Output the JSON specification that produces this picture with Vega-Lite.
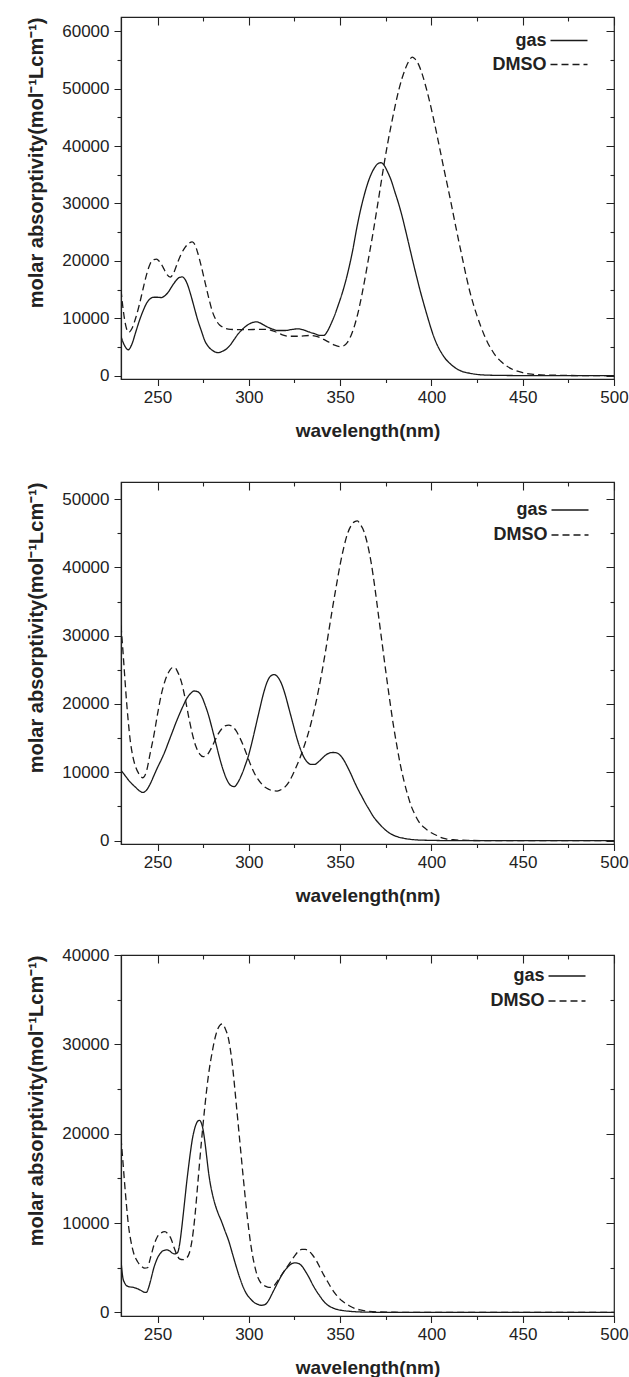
{
  "$schema": "https://vega.github.io/schema/vega-lite/v6.json",
  "padding": {"left": 26, "top": 15, "right": 0, "bottom": 0},
  "spacing": 38,
  "config": {
    "view": {"stroke": "#222", "strokeWidth": 1.2},
    "font": "Liberation Sans",
    "axis": {"labelFont": "Liberation Sans", "titleFont": "Liberation Sans", "labelColor": "#222", "titleColor": "#222", "tickColor": "#222", "domainColor": "#222", "grid": false, "tickWidth": 1.1, "domainWidth": 1.2},
    "legend": {"labelFont": "Liberation Sans"}
  },
  "resolve": {"scale": {"strokeDash": "independent"}, "legend": {"strokeDash": "independent"}},
  "datasets": {
    "p1": [
      {"wl":230,"eps":6800,"s":"gas"},{"wl":232,"eps":5200,"s":"gas"},{"wl":234,"eps":4500,"s":"gas"},{"wl":236,"eps":5500,"s":"gas"},{"wl":238,"eps":7500,"s":"gas"},{"wl":240,"eps":9500,"s":"gas"},{"wl":242,"eps":11200,"s":"gas"},{"wl":244,"eps":12600,"s":"gas"},{"wl":246,"eps":13400,"s":"gas"},{"wl":248,"eps":13650,"s":"gas"},{"wl":250,"eps":13650,"s":"gas"},{"wl":252,"eps":13600,"s":"gas"},{"wl":254,"eps":13900,"s":"gas"},{"wl":256,"eps":14600,"s":"gas"},{"wl":258,"eps":15600,"s":"gas"},{"wl":260,"eps":16500,"s":"gas"},{"wl":262,"eps":17100,"s":"gas"},{"wl":263.5,"eps":17200,"s":"gas"},{"wl":265,"eps":16800,"s":"gas"},{"wl":266.5,"eps":15800,"s":"gas"},{"wl":268,"eps":14300,"s":"gas"},{"wl":270,"eps":12000,"s":"gas"},{"wl":272,"eps":9700,"s":"gas"},{"wl":274,"eps":7800,"s":"gas"},{"wl":276,"eps":6000,"s":"gas"},{"wl":278,"eps":5000,"s":"gas"},{"wl":280,"eps":4400,"s":"gas"},{"wl":283,"eps":4000,"s":"gas"},{"wl":286,"eps":4300,"s":"gas"},{"wl":288,"eps":4700,"s":"gas"},{"wl":290,"eps":5400,"s":"gas"},{"wl":292,"eps":6300,"s":"gas"},{"wl":294,"eps":7200,"s":"gas"},{"wl":296,"eps":7900,"s":"gas"},{"wl":298,"eps":8500,"s":"gas"},{"wl":300,"eps":8950,"s":"gas"},{"wl":302,"eps":9250,"s":"gas"},{"wl":304,"eps":9360,"s":"gas"},{"wl":306,"eps":9200,"s":"gas"},{"wl":308,"eps":8850,"s":"gas"},{"wl":310,"eps":8500,"s":"gas"},{"wl":313,"eps":8100,"s":"gas"},{"wl":316,"eps":7850,"s":"gas"},{"wl":320,"eps":7850,"s":"gas"},{"wl":323,"eps":8000,"s":"gas"},{"wl":327,"eps":8150,"s":"gas"},{"wl":330,"eps":7950,"s":"gas"},{"wl":333,"eps":7600,"s":"gas"},{"wl":336,"eps":7300,"s":"gas"},{"wl":339,"eps":7000,"s":"gas"},{"wl":341,"eps":7000,"s":"gas"},{"wl":343,"eps":7700,"s":"gas"},{"wl":345,"eps":9000,"s":"gas"},{"wl":347,"eps":10500,"s":"gas"},{"wl":349,"eps":12300,"s":"gas"},{"wl":351,"eps":14200,"s":"gas"},{"wl":353,"eps":16400,"s":"gas"},{"wl":355,"eps":19000,"s":"gas"},{"wl":357,"eps":22000,"s":"gas"},{"wl":359,"eps":25500,"s":"gas"},{"wl":361,"eps":28600,"s":"gas"},{"wl":363,"eps":31200,"s":"gas"},{"wl":365,"eps":33400,"s":"gas"},{"wl":367,"eps":35100,"s":"gas"},{"wl":369,"eps":36300,"s":"gas"},{"wl":371,"eps":37000,"s":"gas"},{"wl":372.5,"eps":37100,"s":"gas"},{"wl":374,"eps":36700,"s":"gas"},{"wl":376,"eps":35500,"s":"gas"},{"wl":378,"eps":34000,"s":"gas"},{"wl":380,"eps":32000,"s":"gas"},{"wl":382,"eps":30000,"s":"gas"},{"wl":384,"eps":27700,"s":"gas"},{"wl":386,"eps":25100,"s":"gas"},{"wl":388,"eps":22400,"s":"gas"},{"wl":390,"eps":19700,"s":"gas"},{"wl":392,"eps":17100,"s":"gas"},{"wl":394,"eps":14600,"s":"gas"},{"wl":396,"eps":12300,"s":"gas"},{"wl":398,"eps":10100,"s":"gas"},{"wl":400,"eps":8000,"s":"gas"},{"wl":402,"eps":6200,"s":"gas"},{"wl":404,"eps":4800,"s":"gas"},{"wl":406,"eps":3700,"s":"gas"},{"wl":408,"eps":2800,"s":"gas"},{"wl":410,"eps":2150,"s":"gas"},{"wl":412,"eps":1600,"s":"gas"},{"wl":414,"eps":1150,"s":"gas"},{"wl":417,"eps":700,"s":"gas"},{"wl":421,"eps":400,"s":"gas"},{"wl":425,"eps":200,"s":"gas"},{"wl":430,"eps":80,"s":"gas"},{"wl":440,"eps":20,"s":"gas"},{"wl":450,"eps":0,"s":"gas"},{"wl":500,"eps":0,"s":"gas"},
      {"wl":230,"eps":14900,"s":"DMSO"},{"wl":231,"eps":12000,"s":"DMSO"},{"wl":232,"eps":9700,"s":"DMSO"},{"wl":233,"eps":8200,"s":"DMSO"},{"wl":234.3,"eps":7550,"s":"DMSO"},{"wl":236,"eps":8200,"s":"DMSO"},{"wl":238,"eps":10000,"s":"DMSO"},{"wl":240,"eps":12300,"s":"DMSO"},{"wl":242,"eps":15000,"s":"DMSO"},{"wl":244,"eps":17600,"s":"DMSO"},{"wl":246,"eps":19500,"s":"DMSO"},{"wl":248,"eps":20200,"s":"DMSO"},{"wl":249.5,"eps":20300,"s":"DMSO"},{"wl":251,"eps":19900,"s":"DMSO"},{"wl":253,"eps":18900,"s":"DMSO"},{"wl":255,"eps":17700,"s":"DMSO"},{"wl":257,"eps":17150,"s":"DMSO"},{"wl":259,"eps":18000,"s":"DMSO"},{"wl":261,"eps":19700,"s":"DMSO"},{"wl":263,"eps":21200,"s":"DMSO"},{"wl":265,"eps":22300,"s":"DMSO"},{"wl":267,"eps":23000,"s":"DMSO"},{"wl":269,"eps":23300,"s":"DMSO"},{"wl":270.5,"eps":22800,"s":"DMSO"},{"wl":272,"eps":21400,"s":"DMSO"},{"wl":274,"eps":19000,"s":"DMSO"},{"wl":276,"eps":16300,"s":"DMSO"},{"wl":278,"eps":13600,"s":"DMSO"},{"wl":280,"eps":11200,"s":"DMSO"},{"wl":282,"eps":9700,"s":"DMSO"},{"wl":284,"eps":8800,"s":"DMSO"},{"wl":286,"eps":8400,"s":"DMSO"},{"wl":290,"eps":8050,"s":"DMSO"},{"wl":295,"eps":8000,"s":"DMSO"},{"wl":300,"eps":8000,"s":"DMSO"},{"wl":305,"eps":8050,"s":"DMSO"},{"wl":310,"eps":8050,"s":"DMSO"},{"wl":314,"eps":7700,"s":"DMSO"},{"wl":318,"eps":7150,"s":"DMSO"},{"wl":322,"eps":6850,"s":"DMSO"},{"wl":327,"eps":6850,"s":"DMSO"},{"wl":333,"eps":6980,"s":"DMSO"},{"wl":338,"eps":6750,"s":"DMSO"},{"wl":341,"eps":6300,"s":"DMSO"},{"wl":344,"eps":5800,"s":"DMSO"},{"wl":347,"eps":5300,"s":"DMSO"},{"wl":350,"eps":5050,"s":"DMSO"},{"wl":352,"eps":5200,"s":"DMSO"},{"wl":354,"eps":5800,"s":"DMSO"},{"wl":356,"eps":7000,"s":"DMSO"},{"wl":358,"eps":8800,"s":"DMSO"},{"wl":360,"eps":11200,"s":"DMSO"},{"wl":362,"eps":14200,"s":"DMSO"},{"wl":364,"eps":17600,"s":"DMSO"},{"wl":366,"eps":21200,"s":"DMSO"},{"wl":368,"eps":24800,"s":"DMSO"},{"wl":370,"eps":28700,"s":"DMSO"},{"wl":372,"eps":32700,"s":"DMSO"},{"wl":374,"eps":36700,"s":"DMSO"},{"wl":376,"eps":40400,"s":"DMSO"},{"wl":378,"eps":43700,"s":"DMSO"},{"wl":380,"eps":46800,"s":"DMSO"},{"wl":382,"eps":49600,"s":"DMSO"},{"wl":384,"eps":51900,"s":"DMSO"},{"wl":386,"eps":53700,"s":"DMSO"},{"wl":388,"eps":55000,"s":"DMSO"},{"wl":389.5,"eps":55500,"s":"DMSO"},{"wl":391,"eps":55200,"s":"DMSO"},{"wl":393,"eps":54200,"s":"DMSO"},{"wl":395,"eps":52500,"s":"DMSO"},{"wl":397,"eps":50300,"s":"DMSO"},{"wl":399,"eps":47800,"s":"DMSO"},{"wl":401,"eps":45000,"s":"DMSO"},{"wl":403,"eps":42000,"s":"DMSO"},{"wl":405,"eps":38900,"s":"DMSO"},{"wl":407,"eps":35800,"s":"DMSO"},{"wl":409,"eps":32800,"s":"DMSO"},{"wl":411,"eps":29700,"s":"DMSO"},{"wl":413,"eps":26500,"s":"DMSO"},{"wl":415,"eps":23400,"s":"DMSO"},{"wl":417,"eps":20400,"s":"DMSO"},{"wl":419,"eps":17400,"s":"DMSO"},{"wl":421,"eps":14700,"s":"DMSO"},{"wl":423,"eps":12400,"s":"DMSO"},{"wl":425,"eps":10400,"s":"DMSO"},{"wl":427,"eps":8600,"s":"DMSO"},{"wl":429,"eps":7000,"s":"DMSO"},{"wl":431,"eps":5600,"s":"DMSO"},{"wl":433,"eps":4500,"s":"DMSO"},{"wl":435,"eps":3500,"s":"DMSO"},{"wl":438,"eps":2500,"s":"DMSO"},{"wl":441,"eps":1700,"s":"DMSO"},{"wl":445,"eps":1000,"s":"DMSO"},{"wl":450,"eps":500,"s":"DMSO"},{"wl":455,"eps":250,"s":"DMSO"},{"wl":460,"eps":120,"s":"DMSO"},{"wl":470,"eps":40,"s":"DMSO"},{"wl":480,"eps":0,"s":"DMSO"},{"wl":500,"eps":0,"s":"DMSO"}
    ],
    "p2": [
      {"wl":230,"eps":10300,"s":"gas"},{"wl":232,"eps":9600,"s":"gas"},{"wl":234,"eps":8900,"s":"gas"},{"wl":236,"eps":8300,"s":"gas"},{"wl":238,"eps":7800,"s":"gas"},{"wl":240,"eps":7300,"s":"gas"},{"wl":242,"eps":7050,"s":"gas"},{"wl":244,"eps":7400,"s":"gas"},{"wl":246,"eps":8300,"s":"gas"},{"wl":248,"eps":9500,"s":"gas"},{"wl":250,"eps":10700,"s":"gas"},{"wl":252,"eps":11800,"s":"gas"},{"wl":254,"eps":13000,"s":"gas"},{"wl":256,"eps":14400,"s":"gas"},{"wl":258,"eps":15800,"s":"gas"},{"wl":260,"eps":17200,"s":"gas"},{"wl":262,"eps":18500,"s":"gas"},{"wl":264,"eps":19700,"s":"gas"},{"wl":266,"eps":20800,"s":"gas"},{"wl":268,"eps":21500,"s":"gas"},{"wl":270,"eps":21900,"s":"gas"},{"wl":272,"eps":21800,"s":"gas"},{"wl":274,"eps":21200,"s":"gas"},{"wl":276,"eps":19900,"s":"gas"},{"wl":278,"eps":18300,"s":"gas"},{"wl":280,"eps":16300,"s":"gas"},{"wl":282,"eps":14200,"s":"gas"},{"wl":284,"eps":12100,"s":"gas"},{"wl":286,"eps":10300,"s":"gas"},{"wl":288,"eps":8900,"s":"gas"},{"wl":290,"eps":8100,"s":"gas"},{"wl":292,"eps":7900,"s":"gas"},{"wl":294,"eps":8500,"s":"gas"},{"wl":296,"eps":9600,"s":"gas"},{"wl":298,"eps":11000,"s":"gas"},{"wl":300,"eps":12600,"s":"gas"},{"wl":302,"eps":14700,"s":"gas"},{"wl":304,"eps":17000,"s":"gas"},{"wl":306,"eps":19300,"s":"gas"},{"wl":308,"eps":21500,"s":"gas"},{"wl":310,"eps":23200,"s":"gas"},{"wl":312,"eps":24100,"s":"gas"},{"wl":314,"eps":24300,"s":"gas"},{"wl":316,"eps":23900,"s":"gas"},{"wl":318,"eps":22900,"s":"gas"},{"wl":320,"eps":21300,"s":"gas"},{"wl":322,"eps":19300,"s":"gas"},{"wl":324,"eps":17300,"s":"gas"},{"wl":326,"eps":15300,"s":"gas"},{"wl":328,"eps":13600,"s":"gas"},{"wl":330,"eps":12300,"s":"gas"},{"wl":332,"eps":11500,"s":"gas"},{"wl":334,"eps":11150,"s":"gas"},{"wl":336,"eps":11150,"s":"gas"},{"wl":338,"eps":11500,"s":"gas"},{"wl":340,"eps":12000,"s":"gas"},{"wl":342,"eps":12500,"s":"gas"},{"wl":344,"eps":12800,"s":"gas"},{"wl":346,"eps":12900,"s":"gas"},{"wl":348,"eps":12850,"s":"gas"},{"wl":350,"eps":12500,"s":"gas"},{"wl":352,"eps":11800,"s":"gas"},{"wl":354,"eps":10800,"s":"gas"},{"wl":356,"eps":9700,"s":"gas"},{"wl":358,"eps":8500,"s":"gas"},{"wl":360,"eps":7400,"s":"gas"},{"wl":362,"eps":6400,"s":"gas"},{"wl":364,"eps":5400,"s":"gas"},{"wl":366,"eps":4500,"s":"gas"},{"wl":368,"eps":3600,"s":"gas"},{"wl":370,"eps":2900,"s":"gas"},{"wl":372,"eps":2300,"s":"gas"},{"wl":374,"eps":1750,"s":"gas"},{"wl":376,"eps":1300,"s":"gas"},{"wl":378,"eps":950,"s":"gas"},{"wl":380,"eps":700,"s":"gas"},{"wl":384,"eps":380,"s":"gas"},{"wl":388,"eps":200,"s":"gas"},{"wl":392,"eps":100,"s":"gas"},{"wl":400,"eps":30,"s":"gas"},{"wl":410,"eps":0,"s":"gas"},{"wl":500,"eps":0,"s":"gas"},
      {"wl":230,"eps":31500,"s":"DMSO"},{"wl":231,"eps":28000,"s":"DMSO"},{"wl":232,"eps":24200,"s":"DMSO"},{"wl":233,"eps":20500,"s":"DMSO"},{"wl":234,"eps":17400,"s":"DMSO"},{"wl":235,"eps":14800,"s":"DMSO"},{"wl":236.5,"eps":12300,"s":"DMSO"},{"wl":238,"eps":10800,"s":"DMSO"},{"wl":240,"eps":9700,"s":"DMSO"},{"wl":242,"eps":9200,"s":"DMSO"},{"wl":244,"eps":10200,"s":"DMSO"},{"wl":246,"eps":12800,"s":"DMSO"},{"wl":248,"eps":15400,"s":"DMSO"},{"wl":250,"eps":18500,"s":"DMSO"},{"wl":252,"eps":21300,"s":"DMSO"},{"wl":254,"eps":23300,"s":"DMSO"},{"wl":256,"eps":24600,"s":"DMSO"},{"wl":258,"eps":25300,"s":"DMSO"},{"wl":259.5,"eps":25300,"s":"DMSO"},{"wl":261,"eps":24700,"s":"DMSO"},{"wl":263,"eps":23300,"s":"DMSO"},{"wl":265,"eps":21000,"s":"DMSO"},{"wl":267,"eps":18200,"s":"DMSO"},{"wl":269,"eps":15700,"s":"DMSO"},{"wl":271,"eps":13800,"s":"DMSO"},{"wl":273,"eps":12700,"s":"DMSO"},{"wl":275,"eps":12300,"s":"DMSO"},{"wl":277,"eps":12500,"s":"DMSO"},{"wl":279,"eps":13300,"s":"DMSO"},{"wl":281,"eps":14400,"s":"DMSO"},{"wl":283,"eps":15500,"s":"DMSO"},{"wl":285,"eps":16300,"s":"DMSO"},{"wl":287,"eps":16800,"s":"DMSO"},{"wl":289,"eps":16900,"s":"DMSO"},{"wl":291,"eps":16700,"s":"DMSO"},{"wl":293,"eps":16100,"s":"DMSO"},{"wl":295,"eps":15100,"s":"DMSO"},{"wl":297,"eps":13900,"s":"DMSO"},{"wl":299,"eps":12500,"s":"DMSO"},{"wl":301,"eps":11100,"s":"DMSO"},{"wl":303,"eps":9900,"s":"DMSO"},{"wl":305,"eps":9000,"s":"DMSO"},{"wl":307,"eps":8300,"s":"DMSO"},{"wl":309,"eps":7800,"s":"DMSO"},{"wl":311,"eps":7500,"s":"DMSO"},{"wl":313,"eps":7300,"s":"DMSO"},{"wl":315.5,"eps":7250,"s":"DMSO"},{"wl":318,"eps":7500,"s":"DMSO"},{"wl":320,"eps":7900,"s":"DMSO"},{"wl":322,"eps":8600,"s":"DMSO"},{"wl":324,"eps":9600,"s":"DMSO"},{"wl":326,"eps":10800,"s":"DMSO"},{"wl":328,"eps":12100,"s":"DMSO"},{"wl":330,"eps":13600,"s":"DMSO"},{"wl":332,"eps":15200,"s":"DMSO"},{"wl":334,"eps":17100,"s":"DMSO"},{"wl":336,"eps":19300,"s":"DMSO"},{"wl":338,"eps":21800,"s":"DMSO"},{"wl":340,"eps":24600,"s":"DMSO"},{"wl":342,"eps":27700,"s":"DMSO"},{"wl":344,"eps":31000,"s":"DMSO"},{"wl":346,"eps":34300,"s":"DMSO"},{"wl":348,"eps":37400,"s":"DMSO"},{"wl":350,"eps":40400,"s":"DMSO"},{"wl":352,"eps":42900,"s":"DMSO"},{"wl":354,"eps":44900,"s":"DMSO"},{"wl":356,"eps":46100,"s":"DMSO"},{"wl":358,"eps":46700,"s":"DMSO"},{"wl":359.5,"eps":46800,"s":"DMSO"},{"wl":361,"eps":46300,"s":"DMSO"},{"wl":363,"eps":45300,"s":"DMSO"},{"wl":365,"eps":43400,"s":"DMSO"},{"wl":367,"eps":40700,"s":"DMSO"},{"wl":369,"eps":37100,"s":"DMSO"},{"wl":371,"eps":33000,"s":"DMSO"},{"wl":373,"eps":28900,"s":"DMSO"},{"wl":375,"eps":24800,"s":"DMSO"},{"wl":377,"eps":20900,"s":"DMSO"},{"wl":379,"eps":17200,"s":"DMSO"},{"wl":381,"eps":14000,"s":"DMSO"},{"wl":383,"eps":11100,"s":"DMSO"},{"wl":385,"eps":8700,"s":"DMSO"},{"wl":387,"eps":6700,"s":"DMSO"},{"wl":389,"eps":5000,"s":"DMSO"},{"wl":391,"eps":3800,"s":"DMSO"},{"wl":393,"eps":2800,"s":"DMSO"},{"wl":395,"eps":2150,"s":"DMSO"},{"wl":397,"eps":1700,"s":"DMSO"},{"wl":399,"eps":1300,"s":"DMSO"},{"wl":401,"eps":1000,"s":"DMSO"},{"wl":403,"eps":750,"s":"DMSO"},{"wl":405,"eps":480,"s":"DMSO"},{"wl":408,"eps":250,"s":"DMSO"},{"wl":412,"eps":120,"s":"DMSO"},{"wl":420,"eps":30,"s":"DMSO"},{"wl":430,"eps":0,"s":"DMSO"},{"wl":500,"eps":0,"s":"DMSO"}
    ],
    "p3": [
      {"wl":230,"eps":5800,"s":"gas"},{"wl":231,"eps":3900,"s":"gas"},{"wl":232,"eps":3300,"s":"gas"},{"wl":233,"eps":3000,"s":"gas"},{"wl":235,"eps":2850,"s":"gas"},{"wl":237,"eps":2800,"s":"gas"},{"wl":239,"eps":2650,"s":"gas"},{"wl":241,"eps":2450,"s":"gas"},{"wl":243,"eps":2250,"s":"gas"},{"wl":244,"eps":2250,"s":"gas"},{"wl":245,"eps":2700,"s":"gas"},{"wl":246,"eps":3400,"s":"gas"},{"wl":247,"eps":4200,"s":"gas"},{"wl":248,"eps":5000,"s":"gas"},{"wl":249,"eps":5600,"s":"gas"},{"wl":250,"eps":6100,"s":"gas"},{"wl":251.5,"eps":6600,"s":"gas"},{"wl":253,"eps":6900,"s":"gas"},{"wl":255,"eps":7000,"s":"gas"},{"wl":256.5,"eps":6900,"s":"gas"},{"wl":258,"eps":6650,"s":"gas"},{"wl":259.5,"eps":6550,"s":"gas"},{"wl":261,"eps":6700,"s":"gas"},{"wl":262,"eps":7500,"s":"gas"},{"wl":263,"eps":9000,"s":"gas"},{"wl":264,"eps":10800,"s":"gas"},{"wl":265,"eps":12700,"s":"gas"},{"wl":266,"eps":14600,"s":"gas"},{"wl":267,"eps":16300,"s":"gas"},{"wl":268,"eps":17900,"s":"gas"},{"wl":269,"eps":19300,"s":"gas"},{"wl":270,"eps":20300,"s":"gas"},{"wl":271,"eps":21000,"s":"gas"},{"wl":272,"eps":21400,"s":"gas"},{"wl":273,"eps":21500,"s":"gas"},{"wl":274,"eps":21200,"s":"gas"},{"wl":275,"eps":20400,"s":"gas"},{"wl":276,"eps":19000,"s":"gas"},{"wl":277,"eps":17300,"s":"gas"},{"wl":278,"eps":15600,"s":"gas"},{"wl":279,"eps":14300,"s":"gas"},{"wl":280,"eps":13300,"s":"gas"},{"wl":281.5,"eps":12100,"s":"gas"},{"wl":283,"eps":11200,"s":"gas"},{"wl":285,"eps":10200,"s":"gas"},{"wl":287,"eps":9100,"s":"gas"},{"wl":289,"eps":8000,"s":"gas"},{"wl":291,"eps":6600,"s":"gas"},{"wl":293,"eps":5200,"s":"gas"},{"wl":295,"eps":3900,"s":"gas"},{"wl":297,"eps":2800,"s":"gas"},{"wl":299,"eps":2000,"s":"gas"},{"wl":301,"eps":1500,"s":"gas"},{"wl":303,"eps":1100,"s":"gas"},{"wl":305,"eps":900,"s":"gas"},{"wl":307,"eps":800,"s":"gas"},{"wl":309,"eps":900,"s":"gas"},{"wl":311,"eps":1400,"s":"gas"},{"wl":313,"eps":2200,"s":"gas"},{"wl":315,"eps":3000,"s":"gas"},{"wl":317,"eps":3800,"s":"gas"},{"wl":319,"eps":4500,"s":"gas"},{"wl":321,"eps":5000,"s":"gas"},{"wl":323,"eps":5400,"s":"gas"},{"wl":325,"eps":5550,"s":"gas"},{"wl":327,"eps":5500,"s":"gas"},{"wl":329,"eps":5200,"s":"gas"},{"wl":331,"eps":4600,"s":"gas"},{"wl":333,"eps":3900,"s":"gas"},{"wl":335,"eps":3100,"s":"gas"},{"wl":337,"eps":2400,"s":"gas"},{"wl":339,"eps":1800,"s":"gas"},{"wl":341,"eps":1250,"s":"gas"},{"wl":343,"eps":850,"s":"gas"},{"wl":345,"eps":600,"s":"gas"},{"wl":347,"eps":420,"s":"gas"},{"wl":350,"eps":260,"s":"gas"},{"wl":355,"eps":130,"s":"gas"},{"wl":360,"eps":60,"s":"gas"},{"wl":370,"eps":15,"s":"gas"},{"wl":380,"eps":0,"s":"gas"},{"wl":500,"eps":0,"s":"gas"},
      {"wl":230,"eps":19500,"s":"DMSO"},{"wl":231,"eps":17000,"s":"DMSO"},{"wl":232,"eps":14400,"s":"DMSO"},{"wl":233,"eps":12000,"s":"DMSO"},{"wl":234,"eps":9900,"s":"DMSO"},{"wl":235.5,"eps":7900,"s":"DMSO"},{"wl":237,"eps":6600,"s":"DMSO"},{"wl":239,"eps":5700,"s":"DMSO"},{"wl":241,"eps":5200,"s":"DMSO"},{"wl":243,"eps":4950,"s":"DMSO"},{"wl":244.5,"eps":5000,"s":"DMSO"},{"wl":246,"eps":6000,"s":"DMSO"},{"wl":248,"eps":7500,"s":"DMSO"},{"wl":250,"eps":8500,"s":"DMSO"},{"wl":252,"eps":8900,"s":"DMSO"},{"wl":254,"eps":9050,"s":"DMSO"},{"wl":256,"eps":8700,"s":"DMSO"},{"wl":257.5,"eps":8200,"s":"DMSO"},{"wl":259,"eps":7300,"s":"DMSO"},{"wl":260.5,"eps":6500,"s":"DMSO"},{"wl":262,"eps":6000,"s":"DMSO"},{"wl":264,"eps":5900,"s":"DMSO"},{"wl":266,"eps":6100,"s":"DMSO"},{"wl":267.5,"eps":6700,"s":"DMSO"},{"wl":269,"eps":8200,"s":"DMSO"},{"wl":270.5,"eps":10800,"s":"DMSO"},{"wl":272,"eps":14300,"s":"DMSO"},{"wl":274,"eps":19000,"s":"DMSO"},{"wl":276,"eps":23200,"s":"DMSO"},{"wl":278,"eps":26700,"s":"DMSO"},{"wl":280,"eps":29200,"s":"DMSO"},{"wl":282,"eps":31100,"s":"DMSO"},{"wl":284,"eps":32100,"s":"DMSO"},{"wl":285.5,"eps":32300,"s":"DMSO"},{"wl":287,"eps":31800,"s":"DMSO"},{"wl":289,"eps":30500,"s":"DMSO"},{"wl":291,"eps":27700,"s":"DMSO"},{"wl":293,"eps":23600,"s":"DMSO"},{"wl":295,"eps":19300,"s":"DMSO"},{"wl":297,"eps":15000,"s":"DMSO"},{"wl":299,"eps":11000,"s":"DMSO"},{"wl":301,"eps":7700,"s":"DMSO"},{"wl":303,"eps":5400,"s":"DMSO"},{"wl":305,"eps":3900,"s":"DMSO"},{"wl":307,"eps":3200,"s":"DMSO"},{"wl":309,"eps":2950,"s":"DMSO"},{"wl":311,"eps":2800,"s":"DMSO"},{"wl":313,"eps":2850,"s":"DMSO"},{"wl":315,"eps":3300,"s":"DMSO"},{"wl":317,"eps":3900,"s":"DMSO"},{"wl":319,"eps":4500,"s":"DMSO"},{"wl":321,"eps":5100,"s":"DMSO"},{"wl":323,"eps":5700,"s":"DMSO"},{"wl":325,"eps":6300,"s":"DMSO"},{"wl":327,"eps":6800,"s":"DMSO"},{"wl":329,"eps":7050,"s":"DMSO"},{"wl":331,"eps":7050,"s":"DMSO"},{"wl":333,"eps":6850,"s":"DMSO"},{"wl":335,"eps":6400,"s":"DMSO"},{"wl":337,"eps":5800,"s":"DMSO"},{"wl":339,"eps":5000,"s":"DMSO"},{"wl":341,"eps":4200,"s":"DMSO"},{"wl":343,"eps":3500,"s":"DMSO"},{"wl":345,"eps":2800,"s":"DMSO"},{"wl":347,"eps":2200,"s":"DMSO"},{"wl":349,"eps":1700,"s":"DMSO"},{"wl":351,"eps":1300,"s":"DMSO"},{"wl":353,"eps":1000,"s":"DMSO"},{"wl":355,"eps":750,"s":"DMSO"},{"wl":358,"eps":450,"s":"DMSO"},{"wl":361,"eps":280,"s":"DMSO"},{"wl":365,"eps":150,"s":"DMSO"},{"wl":370,"eps":70,"s":"DMSO"},{"wl":380,"eps":20,"s":"DMSO"},{"wl":390,"eps":0,"s":"DMSO"},{"wl":500,"eps":0,"s":"DMSO"}
    ]
  },
  "vconcat": [
    {
      "width": 493, "height": 362,
      "data": {"name": "p1"},
      "layer": [
        {
          "mark": {"type": "line", "interpolate": "monotone", "strokeWidth": 1.3, "color": "#1a1a1a", "clip": true},
          "encoding": {
            "x": {"field": "wl", "type": "quantitative", "scale": {"domain": [230, 500], "nice": false, "zero": false},
              "axis": {"orient": "bottom", "title": "wavelength(nm)", "values": [250,275,300,325,350,375,400,425,450,475,500], "labelExpr": "datum.value % 50 === 0 ? datum.label : ''", "tickSize": 6.5, "tickDash": {"condition": {"test": "datum.value % 50 === 0", "value": [1, 0]}, "value": [3.5, 30]}, "labelFlush": false, "labelOverlap": false, "labelFontSize": 17, "labelPadding": 4, "titleFontSize": 19, "titleFontWeight": "bold", "titlePadding": 16}},
            "y": {"field": "eps", "type": "quantitative", "scale": {"domain": [-600, 62500], "nice": false, "zero": false},
              "axis": {"orient": "left", "title": "molar absorptivity(mol⁻¹Lcm⁻¹)", "titleAnchor": "end", "values": [0,5000,10000,15000,20000,25000,30000,35000,40000,45000,50000,55000,60000], "format": "d", "labelExpr": "datum.value % 10000 === 0 ? datum.label : ''", "tickSize": 7, "tickDash": {"condition": {"test": "datum.value % 10000 === 0", "value": [1, 0]}, "value": [4, 30]}, "labelFlush": false, "labelOverlap": false, "labelFontSize": 17, "labelPadding": 5, "titleFontSize": 20, "titleFontWeight": "bold", "titlePadding": 15}},
            "strokeDash": {"field": "s", "type": "nominal", "scale": {"domain": ["gas", "DMSO"], "range": [[1, 0], [7, 4]]},
              "legend": {"orient": "none", "legendX": 437, "legendY": 12.5, "title": null, "symbolType": "M-1.85,0H1.85", "symbolSize": 400, "symbolStrokeWidth": 1.5, "symbolStrokeColor": "#1a1a1a", "symbolFillColor": "transparent", "labelFontSize": 18, "labelFontWeight": "bold", "labelColor": "#222", "labelAlign": "right", "labelOffset": -33.5, "padding": 0, "rowPadding": 4}}
          }
        },
        {
          "mark": {"type": "line", "opacity": 0},
          "encoding": {
            "x": {"field": "wl", "type": "quantitative", "scale": {"domain": [230, 500], "nice": false, "zero": false},
              "axis": {"orient": "top", "title": null, "labels": false, "domain": false, "values": [250,275,300,325,350,375,400,425,450,475,500], "tickSize": -8, "tickDash": {"condition": {"test": "datum.value % 50 === 0", "value": [1, 0]}, "value": [4, 30]}}},
            "y": {"field": "eps", "type": "quantitative", "scale": {"domain": [-600, 62500], "nice": false, "zero": false},
              "axis": {"orient": "right", "title": null, "labels": false, "domain": false, "values": [0,5000,10000,15000,20000,25000,30000,35000,40000,45000,50000,55000,60000], "tickSize": -8, "tickDash": {"condition": {"test": "datum.value % 10000 === 0", "value": [1, 0]}, "value": [4, 30]}}},
            "detail": {"field": "s"}
          }
        }
      ],
      "resolve": {"axis": {"x": "independent", "y": "independent"}}
    },
    {
      "width": 493, "height": 362,
      "data": {"name": "p2"},
      "layer": [
        {
          "mark": {"type": "line", "interpolate": "monotone", "strokeWidth": 1.3, "color": "#1a1a1a", "clip": true},
          "encoding": {
            "x": {"field": "wl", "type": "quantitative", "scale": {"domain": [230, 500], "nice": false, "zero": false},
              "axis": {"orient": "bottom", "title": "wavelength(nm)", "values": [250,275,300,325,350,375,400,425,450,475,500], "labelExpr": "datum.value % 50 === 0 ? datum.label : ''", "tickSize": 6.5, "tickDash": {"condition": {"test": "datum.value % 50 === 0", "value": [1, 0]}, "value": [3.5, 30]}, "labelFlush": false, "labelOverlap": false, "labelFontSize": 17, "labelPadding": 4, "titleFontSize": 19, "titleFontWeight": "bold", "titlePadding": 16}},
            "y": {"field": "eps", "type": "quantitative", "scale": {"domain": [-500, 52500], "nice": false, "zero": false},
              "axis": {"orient": "left", "title": "molar absorptivity(mol⁻¹Lcm⁻¹)", "titleAnchor": "end", "values": [0,5000,10000,15000,20000,25000,30000,35000,40000,45000,50000], "format": "d", "labelExpr": "datum.value % 10000 === 0 ? datum.label : ''", "tickSize": 7, "tickDash": {"condition": {"test": "datum.value % 10000 === 0", "value": [1, 0]}, "value": [4, 30]}, "labelFlush": false, "labelOverlap": false, "labelFontSize": 17, "labelPadding": 5, "titleFontSize": 20, "titleFontWeight": "bold", "titlePadding": 15}},
            "strokeDash": {"field": "s", "type": "nominal", "scale": {"domain": ["gas", "DMSO"], "range": [[1, 0], [7, 4]]},
              "legend": {"orient": "none", "legendX": 438, "legendY": 17, "title": null, "symbolType": "M-1.85,0H1.85", "symbolSize": 400, "symbolStrokeWidth": 1.5, "symbolStrokeColor": "#1a1a1a", "symbolFillColor": "transparent", "labelFontSize": 18, "labelFontWeight": "bold", "labelColor": "#222", "labelAlign": "right", "labelOffset": -33.5, "padding": 0, "rowPadding": 5}}
          }
        },
        {
          "mark": {"type": "line", "opacity": 0},
          "encoding": {
            "x": {"field": "wl", "type": "quantitative", "scale": {"domain": [230, 500], "nice": false, "zero": false},
              "axis": {"orient": "top", "title": null, "labels": false, "domain": false, "values": [250,275,300,325,350,375,400,425,450,475,500], "tickSize": -8, "tickDash": {"condition": {"test": "datum.value % 50 === 0", "value": [1, 0]}, "value": [4, 30]}}},
            "y": {"field": "eps", "type": "quantitative", "scale": {"domain": [-500, 52500], "nice": false, "zero": false},
              "axis": {"orient": "right", "title": null, "labels": false, "domain": false, "values": [0,5000,10000,15000,20000,25000,30000,35000,40000,45000,50000], "tickSize": -8, "tickDash": {"condition": {"test": "datum.value % 10000 === 0", "value": [1, 0]}, "value": [4, 30]}}},
            "detail": {"field": "s"}
          }
        }
      ],
      "resolve": {"axis": {"x": "independent", "y": "independent"}}
    },
    {
      "width": 493, "height": 361,
      "data": {"name": "p3"},
      "layer": [
        {
          "mark": {"type": "line", "interpolate": "monotone", "strokeWidth": 1.3, "color": "#1a1a1a", "clip": true},
          "encoding": {
            "x": {"field": "wl", "type": "quantitative", "scale": {"domain": [230, 500], "nice": false, "zero": false},
              "axis": {"orient": "bottom", "title": "wavelength(nm)", "values": [250,275,300,325,350,375,400,425,450,475,500], "labelExpr": "datum.value % 50 === 0 ? datum.label : ''", "tickSize": 6.5, "tickDash": {"condition": {"test": "datum.value % 50 === 0", "value": [1, 0]}, "value": [3.5, 30]}, "labelFlush": false, "labelOverlap": false, "labelFontSize": 17, "labelPadding": 4, "titleFontSize": 19, "titleFontWeight": "bold", "titlePadding": 16}},
            "y": {"field": "eps", "type": "quantitative", "scale": {"domain": [-400, 40000], "nice": false, "zero": false},
              "axis": {"orient": "left", "title": "molar absorptivity(mol⁻¹Lcm⁻¹)", "titleAnchor": "end", "values": [0,5000,10000,15000,20000,25000,30000,35000,40000], "format": "d", "labelExpr": "datum.value % 10000 === 0 ? datum.label : ''", "tickSize": 7, "tickDash": {"condition": {"test": "datum.value % 10000 === 0", "value": [1, 0]}, "value": [4, 30]}, "labelFlush": false, "labelOverlap": false, "labelFontSize": 17, "labelPadding": 5, "titleFontSize": 20, "titleFontWeight": "bold", "titlePadding": 15}},
            "strokeDash": {"field": "s", "type": "nominal", "scale": {"domain": ["gas", "DMSO"], "range": [[1, 0], [7, 4]]},
              "legend": {"orient": "none", "legendX": 435, "legendY": 10, "title": null, "symbolType": "M-1.85,0H1.85", "symbolSize": 400, "symbolStrokeWidth": 1.5, "symbolStrokeColor": "#1a1a1a", "symbolFillColor": "transparent", "labelFontSize": 18, "labelFontWeight": "bold", "labelColor": "#222", "labelAlign": "right", "labelOffset": -33.5, "padding": 0, "rowPadding": 5}}
          }
        },
        {
          "mark": {"type": "line", "opacity": 0},
          "encoding": {
            "x": {"field": "wl", "type": "quantitative", "scale": {"domain": [230, 500], "nice": false, "zero": false},
              "axis": {"orient": "top", "title": null, "labels": false, "domain": false, "values": [250,275,300,325,350,375,400,425,450,475,500], "tickSize": -8, "tickDash": {"condition": {"test": "datum.value % 50 === 0", "value": [1, 0]}, "value": [4, 30]}}},
            "y": {"field": "eps", "type": "quantitative", "scale": {"domain": [-400, 40000], "nice": false, "zero": false},
              "axis": {"orient": "right", "title": null, "labels": false, "domain": false, "values": [0,5000,10000,15000,20000,25000,30000,35000,40000], "tickSize": -8, "tickDash": {"condition": {"test": "datum.value % 10000 === 0", "value": [1, 0]}, "value": [4, 30]}}},
            "detail": {"field": "s"}
          }
        }
      ],
      "resolve": {"axis": {"x": "independent", "y": "independent"}}
    }
  ]
}
